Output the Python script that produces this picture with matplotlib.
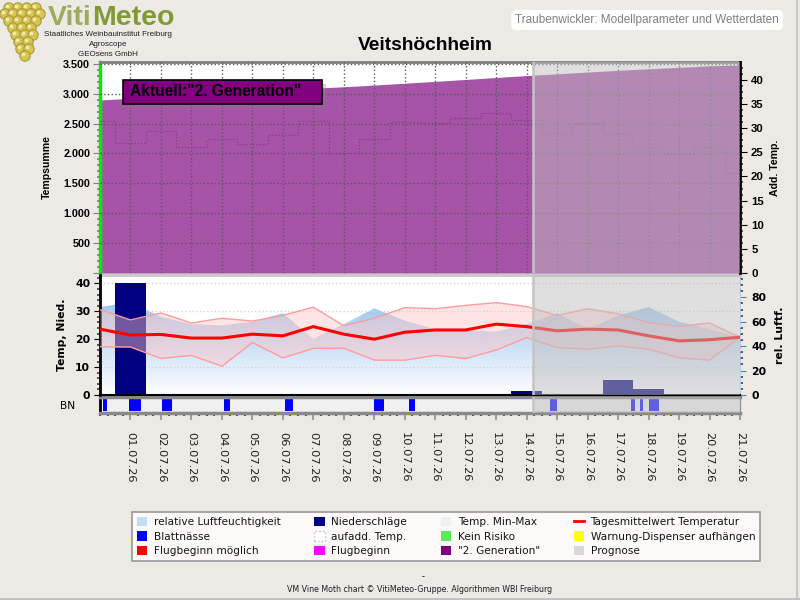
import numpy as np
import pandas as pd
import matplotlib
matplotlib.use('Agg')
from matplotlib import pyplot as plt
import matplotlib.dates as mdates
import matplotlib.patches as patches
from matplotlib.colors import LinearSegmentedColormap
from matplotlib.lines import Line2D
from matplotlib.ticker import MultipleLocator, AutoMinorLocator, FuncFormatter

#================================ data ================================
days = pd.date_range('2026-06-30', '2026-07-21', freq='D')

temp_sum = [2895, 2922, 2951, 2977, 3005, 3032, 3060, 3091, 3116, 3144, 3175,
            3206, 3238, 3271, 3303, 3332, 3362, 3391, 3416, 3441, 3467, 3480]
add_temp = [31.5, 27.0, 29.5, 26.1, 27.7, 26.7, 28.5, 31.5, 24.9, 27.7, 31.3,
            31.0, 32.0, 33.2, 31.7, 28.75, 31.0, 28.75, 25.8, 24.6, 26.0, 20.8]

temp_mean = [23.6, 21.5, 21.7, 20.4, 20.4, 21.8, 21.2, 24.5, 21.8, 20.0, 22.5,
             23.3, 23.3, 25.4, 24.5, 23.0, 23.6, 23.3, 21.2, 19.4, 19.8, 20.7]
temp_max = [30.6, 26.9, 29.4, 25.8, 27.5, 26.5, 28.5, 31.5, 24.8, 27.5, 31.3,
            30.9, 32.1, 33.1, 31.7, 28.5, 30.9, 29.1, 26.0, 24.6, 25.8, 20.7]
temp_min = [17.3, 17.2, 13.1, 14.2, 10.3, 18.8, 13.3, 16.7, 16.8, 12.5, 12.5,
            14.2, 13.1, 16.1, 20.6, 17.0, 16.4, 17.6, 16.4, 13.3, 12.5, 20.7]
rel_hum = [72, 76, 64, 58, 57, 60, 67, 46, 58, 71, 61,
           54, 53, 52, 58, 67, 54, 65, 72, 60, 54, 47]
precip = [0, 40, 0, 0, 0, 0, 0, 0, 0, 0, 0,
          0, 0, 0, 1.5, 0, 0, 5.5, 2.2, 0, 0, 0]

leaf_wet = [('2026-06-30 02:00', '2026-06-30 05:30'),
            ('2026-06-30 23:00', '2026-07-01 08:00'),
            ('2026-07-02 01:00', '2026-07-02 08:30'),
            ('2026-07-04 02:00', '2026-07-04 06:00'),
            ('2026-07-06 02:00', '2026-07-06 08:00'),
            ('2026-07-08 23:30', '2026-07-09 07:30'),
            ('2026-07-10 03:00', '2026-07-10 08:00'),
            ('2026-07-14 18:00', '2026-07-14 23:30'),
            ('2026-07-17 10:00', '2026-07-17 13:30'),
            ('2026-07-17 17:00', '2026-07-17 20:00'),
            ('2026-07-18 00:00', '2026-07-18 08:30')]

forecast_start = pd.Timestamp('2026-07-14 05:00')
date_ticks = days[1:]

#================================ figure ================================
BG = '#edeae6'
fig = plt.figure(figsize=(8, 6), dpi=100, facecolor=BG)


def rect(x0, y0, x1, y1):
    # pixel box -> figure fraction
    return [x0 / 800, 1 - y1 / 600, (x1 - x0) / 800, (y1 - y0) / 600]


ax_top = fig.add_axes(rect(100, 62, 740, 273))
ax_mid = fig.add_axes(rect(100, 275, 740, 395), sharex=ax_top)
ax_bn = fig.add_axes(rect(100, 397, 740, 413), sharex=ax_top)

grid_top = dict(color=(0.35, 0.35, 0.35, 0.22), linestyle=':', linewidth=1.0)
grid_mid = dict(color='#d4d4d4', linestyle=':', linewidth=1.0)
bold_lib = dict(family='Liberation Sans', weight='bold')

# ------------------ top panel: Tempsumme / Add. Temp. ------------------
ax_top.fill_between(days, temp_sum, 0, color='#a653a8', lw=0)
ax_top.set_ylim(0, 3530)
ax_top.set_xlim(days[0], days[-1])
ax_top.yaxis.set_major_locator(MultipleLocator(500))
ax_top.yaxis.set_minor_locator(AutoMinorLocator(5))
ax_top.yaxis.set_major_formatter(FuncFormatter(
    lambda v, p: '' if v == 0 else f'{int(v):,}'.replace(',', '.')))
ax_top.tick_params(axis='y', which='major', length=5, color='#808080', pad=2)
ax_top.tick_params(axis='y', which='minor', length=2.5, width=1.2, color='#808080')
ax_top.tick_params(axis='x', which='both', length=0, labelbottom=False)
for lab in ax_top.get_yticklabels():
    lab.set_fontproperties(bold_lib)
    lab.set_fontsize(7.8)
ax_top.set_axisbelow(False)
ax_top.grid(True, which='major', **grid_top)
ax_top.spines['left'].set_color('#00ee00')
ax_top.spines['left'].set_linewidth(2.5)
ax_top.spines['top'].set_color('#808080')
ax_top.spines['top'].set_linewidth(2)
ax_top.spines['bottom'].set_visible(False)
ax_top.spines['right'].set_visible(False)
ax_top.set_ylabel('Tempsumme', fontsize=7.6, labelpad=8, **bold_lib)

ax_top_r = ax_top.twinx()
ax_top_r.step(days, add_temp, where='mid', linestyle=(0, (1, 1.5)), color='#8a3b8c', lw=0.9)
ax_top_r.set_ylim(0, 43.7)
ax_top_r.yaxis.set_major_locator(MultipleLocator(5))
ax_top_r.yaxis.set_minor_locator(AutoMinorLocator(4))
ax_top_r.tick_params(axis='y', which='major', length=5, color='black', pad=3)
ax_top_r.tick_params(axis='y', which='minor', length=2.5, width=1.2, color='#404040')
for lab in ax_top_r.get_yticklabels():
    lab.set_fontproperties(bold_lib)
    lab.set_fontsize(8.2)
for s in ['left', 'top', 'bottom']:
    ax_top_r.spines[s].set_visible(False)
ax_top_r.spines['right'].set_color('black')
ax_top_r.spines['right'].set_linewidth(2)
ax_top_r.set_ylabel('Add. Temp.', fontsize=7.6, labelpad=4, **bold_lib)
ax_top_r.axvspan(forecast_start, days[-1], color='#c0c0c0', alpha=0.5, lw=0, zorder=10)
ax_top_r.axvline(forecast_start, color='#c4c4c4', lw=1.8, zorder=11)

# ------------------ middle panel: humidity (right) / temp + rain (left) ------------------
ax_mid.set_ylim(0, 98.3)
hum_poly = ax_mid.fill_between(days, rel_hum, 0, facecolor='none', edgecolor='none')
cmap_rh = LinearSegmentedColormap.from_list('rh', ['#ffffff', '#cfe2f7', '#9cc6f0'])
grad = np.linspace(0, 1, 256).reshape(-1, 1)
x0, x1 = mdates.date2num(days[0]), mdates.date2num(days[-1])
im = ax_mid.imshow(grad, extent=[x0, x1, 0, max(rel_hum)], origin='lower',
                   aspect='auto', cmap=cmap_rh, zorder=1)
im.set_clip_path(hum_poly.get_paths()[0], transform=ax_mid.transData)
ax_mid.set_xlim(days[0], days[-1])
ax_mid.set_ylim(0, 98.3)

ax_t = ax_mid.twinx()
ax_t.yaxis.tick_left()
ax_t.yaxis.set_label_position('left')

# humidity axis stays on the right (twinx moves it, so set it after)
ax_mid.yaxis.tick_right()
ax_mid.yaxis.set_label_position('right')
ax_mid.yaxis.set_major_locator(MultipleLocator(20))
ax_mid.yaxis.set_minor_locator(AutoMinorLocator(4))
ax_mid.tick_params(axis='y', which='major', length=4, color='#5080c0', labelsize=7.8, pad=4)
ax_mid.tick_params(axis='y', which='minor', length=2.5, width=1.2, color='#404040')
ax_mid.tick_params(axis='x', which='both', length=0, labelbottom=False)
for lab in ax_mid.get_yticklabels():
    lab.set_fontweight('bold')
ax_mid.set_ylabel('rel. Luftf.', fontsize=7.8, fontweight='bold', labelpad=6)
ax_mid.spines['right'].set_color('#a8c8ec')
ax_mid.spines['right'].set_linestyle(':')
ax_mid.spines['top'].set_color('#c8c8c8')
ax_mid.spines['top'].set_linewidth(2)
ax_mid.spines['left'].set_visible(False)
ax_mid.spines['bottom'].set_visible(False)

ax_t.bar(days, precip, width=1.0, color='#000080', align='center', zorder=2)
ax_t.fill_between(days, temp_min, temp_max, color='#ffc4c4', alpha=0.45, lw=0, zorder=3)
ax_t.plot(days, temp_max, color='#ff9c9c', lw=1.0, zorder=4)
ax_t.plot(days, temp_min, color='#ff9c9c', lw=1.0, zorder=4)
ax_t.plot(days, temp_mean, color='#ff0000', lw=2.2, zorder=5)
ax_t.set_ylim(0, 43)
ax_t.yaxis.set_major_locator(MultipleLocator(10))
ax_t.yaxis.set_minor_locator(AutoMinorLocator(5))
ax_t.tick_params(axis='y', which='major', length=4, color='black', labelsize=7.8, pad=3)
ax_t.tick_params(axis='y', which='minor', length=2.5, width=1.2, color='#404040')
ax_t.tick_params(axis='x', which='both', length=0, labelbottom=False)
for lab in ax_t.get_yticklabels():
    lab.set_fontweight('bold')
ax_t.set_axisbelow(True)
ax_t.grid(True, which='major', **grid_mid)
ax_t.set_ylabel('Temp, Nied.', fontsize=7.8, fontweight='bold', labelpad=6)
for s in ['right', 'top']:
    ax_t.spines[s].set_visible(False)
ax_t.spines['left'].set_color('black')
ax_t.spines['left'].set_linewidth(2)
ax_t.spines['bottom'].set_color('black')
ax_t.spines['bottom'].set_linewidth(1.5)
ax_t.axvspan(forecast_start, days[-1], color='#c0c0c0', alpha=0.5, lw=0, zorder=10)
ax_t.axvline(forecast_start, color='#c4c4c4', lw=1.8, zorder=11)

# ------------------ BN strip (Blattnässe) ------------------
ax_bn.set_facecolor('#f0f0f0')
for start, end in leaf_wet:
    ax_bn.axvspan(pd.Timestamp(start), pd.Timestamp(end), ymin=0.1, ymax=1,
                  color='#0000ff', lw=0)
    ax_bn.axvspan(pd.Timestamp(start), pd.Timestamp(end), ymin=0, ymax=0.1,
                  color='#ffff00', lw=0)
ax_bn.axvspan(forecast_start, days[-1], color='#c0c0c0', alpha=0.5, lw=0, zorder=10)
ax_bn.axvline(forecast_start, color='#c4c4c4', lw=1.8, zorder=11)
ax_bn.set_ylim(0, 1)
ax_bn.set_yticks([])
ax_bn.set_xlim(days[0], days[-1])
ax_bn.set_xticks(date_ticks)
ax_bn.xaxis.set_major_formatter(mdates.DateFormatter('%d.%m.%y'))
ax_bn.xaxis.set_minor_locator(mdates.HourLocator(byhour=[0, 6, 12, 18]))
ax_bn.tick_params(axis='x', which='major', length=5, width=1.5, color='#a0a0a0',
                  pad=9, labelsize=8.2, labelrotation=270, labelcolor='#202020')
ax_bn.tick_params(axis='x', which='minor', length=2.5, width=1.5, color='#505050')
for lab in ax_bn.get_xticklabels():
    lab.set_verticalalignment('top')
for s in ['top', 'bottom']:
    ax_bn.spines[s].set_color('#8a8a8a')
    ax_bn.spines[s].set_linewidth(2.5)
ax_bn.spines['left'].set_color('black')
ax_bn.spines['left'].set_linewidth(2)
ax_bn.spines['right'].set_color('#8a8a8a')
fig.text(60 / 800, 1 - 406 / 600, 'BN', fontsize=7.7, ha='left', va='center')

# ------------------ Aktuell box ------------------
fig.add_artist(patches.Rectangle((127 / 800, 1 - 108 / 600), 199 / 800, 24 / 600,
                                 transform=fig.transFigure, facecolor='#808080',
                                 alpha=0.35, lw=0))
fig.add_artist(patches.Rectangle((123 / 800, 1 - 104 / 600), 199 / 800, 24 / 600,
                                 transform=fig.transFigure, facecolor='#800080',
                                 edgecolor='black', lw=1.2))
fig.text(130 / 800, 1 - 92 / 600, 'Aktuell:"2. Generation"', fontsize=11.2,
         ha='left', va='center', color='black', **bold_lib)

# ------------------ titles ------------------
fig.text(425 / 800, 1 - 45 / 600, 'Veitshöchheim', fontsize=13.8, ha='center',
         va='center', **bold_lib)
fig.text(779 / 800, 1 - 20 / 600, 'Traubenwickler: Modellparameter und Wetterdaten',
         fontsize=8.5, family='Liberation Sans', color='#808080', ha='right', va='center',
         bbox=dict(boxstyle='round,pad=0.35,rounding_size=0.5', facecolor='white',
                   edgecolor='none'))

# ------------------ logo ------------------
ax_logo = fig.add_axes(rect(0, 0, 50, 66))
ax_logo.set_xlim(0, 50)
ax_logo.set_ylim(66, 0)
ax_logo.axis('off')
grape_rows = [(8, [9, 18, 27, 36]), (14, [5, 13, 22, 31, 40]),
              (21, [9, 18, 27, 36]), (28, [13, 22, 31]), (35, [16, 25, 33]),
              (42, [19, 28]), (49, [21, 29]), (56, [25])]
for gy, xs in grape_rows:
    for gx in xs:
        ax_logo.add_patch(patches.Circle((gx, gy), 5.2, facecolor='#d6c552',
                                         edgecolor='#a99a35', lw=0.8))
        ax_logo.add_patch(patches.Circle((gx - 1.5, gy - 1.5), 1.8, facecolor='#f3ebb0',
                                         edgecolor='none'))
fig.text(48 / 800, 1 - 25 / 600, 'Viti', fontsize=20.5, color='#9fab5c', ha='left',
         va='baseline', **bold_lib)
fig.text(92 / 800, 1 - 25 / 600, 'Meteo', fontsize=20.5, color='#829a36', ha='left',
         va='baseline', **bold_lib)
for ty, txt in [(35, 'Staatliches Weinbauinstitut Freiburg'), (45, 'Agroscope'),
                (55, 'GEOsens GmbH')]:
    fig.text(108 / 800, 1 - ty / 600, txt, fontsize=5.8, family='Liberation Sans',
             ha='center', va='center', color='#202020')

# ------------------ legend ------------------
handles = [
    patches.Patch(facecolor='#c6dcf4', edgecolor='none', label='relative Luftfeuchtigkeit'),
    patches.Patch(facecolor='#0000ff', edgecolor='none', label='Blattnässe'),
    patches.Patch(facecolor='#ff0000', edgecolor='none', label='Flugbeginn möglich'),
    patches.Patch(facecolor='#000080', edgecolor='none', label='Niederschläge'),
    patches.Patch(facecolor='white', edgecolor='#c0c0c0', linestyle=':', label='aufadd. Temp.'),
    patches.Patch(facecolor='#ff00ff', edgecolor='none', label='Flugbeginn'),
    patches.Patch(facecolor='#f0f0f0', edgecolor='none', label='Temp. Min-Max'),
    patches.Patch(facecolor='#55ee55', edgecolor='none', label='Kein Risiko'),
    patches.Patch(facecolor='#800080', edgecolor='none', label='"2. Generation"'),
    Line2D([0], [0], color='#ff0000', lw=2, label='Tagesmittelwert Temperatur'),
    patches.Patch(facecolor='#ffff00', edgecolor='none', label='Warnung-Dispenser aufhängen'),
    patches.Patch(facecolor='#d8d8d8', edgecolor='none', label='Prognose'),
]
leg = fig.legend(handles=handles, ncol=4, loc='center', bbox_to_anchor=(446 / 800, 1 - 536.5 / 600),
                 fontsize=7.6, frameon=True, fancybox=False, edgecolor='#808080',
                 handlelength=1.0, handleheight=1.0, handletextpad=0.6,
                 columnspacing=3.2, labelspacing=0.4, borderpad=0.45)
leg.get_frame().set_linewidth(1.2)
for t in leg.get_texts():
    t.set_color('#141414')

# ------------------ footer ------------------
fig.text(423 / 800, 1 - 577 / 600, '-', fontsize=6, ha='center', va='center')
fig.text(420 / 800, 1 - 590 / 600,
         'VM Vine Moth chart © VitiMeteo-Gruppe. Algorithmen WBI Freiburg',
         fontsize=5.7, ha='center', va='center', color='#202020')
fig.add_artist(Line2D([797 / 800, 797 / 800], [0, 1], color='#c8c8c8', lw=1.5,
                      transform=fig.transFigure))
fig.add_artist(Line2D([0, 1], [1 / 600, 1 / 600], color='#c0c0c0', lw=2,
                      transform=fig.transFigure))

fig.savefig('out.png', dpi=100, facecolor=BG)
